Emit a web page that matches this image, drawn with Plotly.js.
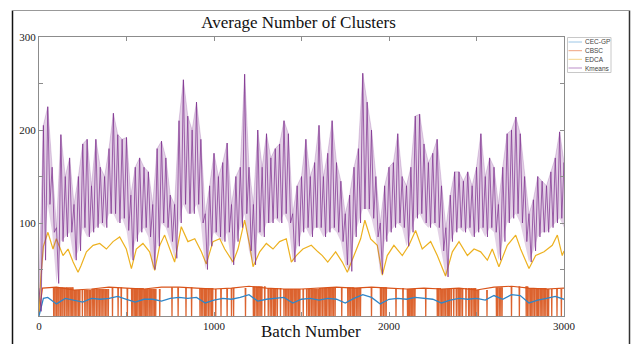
<!DOCTYPE html>
<html>
<head>
<meta charset="utf-8">
<script src="https://cdn.plot.ly/plotly-3.0.1.min.js"></script>
<style>html,body{margin:0;padding:0;background:#fff;}#chart{width:636px;height:344px;}</style>
</head>
<body>
<div id="chart"></div>
<script>
// ---------- data ----------
const seriesNames = ["CEC-GP", "CBSC", "EDCA", "Kmeans"];

// Kmeans: upper and lower edges of the fast oscillation, every 25 batches
const kmeansBatch = [0,25,50,75,100,125,150,175,200,225,250,275,300,325,350,375,400,425,450,475,
  500,525,550,575,600,625,650,675,700,725,750,775,800,825,850,875,900,925,950,975,
  1000,1025,1050,1075,1100,1125,1150,1175,1200,1225,1250,1275,1300,1325,1350,1375,1400,1425,1450,1475,
  1500,1525,1550,1575,1600,1625,1650,1675,1700,1725,1750,1775,1800,1825,1850,1875,1900,1925,1950,1975,
  2000,2025,2050,2075,2100,2125,2150,2175,2200,2225,2250,2275,2300,2325,2350,2375,2400,2425,2450,2475,
  2500,2525,2550,2575,2600,2625,2650,2675,2700,2725,2750,2775,2800,2825,2850,2875,2900,2925,2950,2975,3000];
const kmeansHigh = [30,205,225,160,95,195,150,170,120,150,185,190,140,190,160,150,180,218,195,190,
  192,130,160,170,160,155,120,180,188,170,130,120,210,254,215,200,230,190,110,140,
  175,150,165,186,120,150,160,260,160,120,200,160,196,170,180,185,210,196,110,140,
  150,190,150,165,205,150,175,210,165,145,110,130,160,180,261,230,200,150,100,140,
  160,165,196,150,140,160,215,217,185,165,175,190,140,95,130,155,155,145,155,140,
  160,196,150,170,160,120,160,196,200,214,196,150,110,125,150,145,140,155,170,198,165];
const kmeansLow = [5,60,120,90,35,80,85,90,60,70,95,85,90,95,100,95,110,110,100,105,
  92,60,80,90,95,85,50,75,100,95,80,62,100,120,110,110,120,100,50,75,
  90,85,80,90,55,80,95,110,70,55,90,85,100,100,105,100,110,100,58,75,
  90,95,85,95,95,85,90,95,90,80,55,48,85,100,115,115,105,85,45,80,
  90,95,100,95,75,90,105,110,100,95,100,95,70,42,80,90,95,90,95,85,
  90,95,85,95,90,60,80,100,105,110,100,80,58,70,85,90,90,95,100,105,95];

// EDCA
const edcaBatch = [0,10,25,51,80,99,137,166,195,223,240,271,309,347,385,423,461,499,528,556,
  594,632,661,690,718,747,775,813,851,890,928,956,994,1033,1061,1109,1137,1175,1204,1223,
  1261,1299,1337,1375,1413,1442,1470,1508,1556,1594,1619,1650,1695,1733,1762,1800,1838,1862,1895,1933,
  1962,1990,2028,2076,2114,2152,2190,2238,2276,2323,2362,2400,2448,2486,2524,2562,2590,2628,2676,2724,
  2752,2800,2838,2886,2933,2962,2990,3000];
const edcaValue = [5,40,75,90,72,83,65,72,58,47,54,69,76,78,72,80,85,72,51,72,
  78,69,49,76,87,72,58,96,80,83,69,56,80,83,72,58,72,103,76,53,
  69,78,72,80,83,58,65,72,76,69,65,58,69,58,47,65,83,103,83,76,
  44,65,76,65,76,92,72,80,65,43,69,80,65,72,69,60,72,53,76,87,
  72,51,65,69,76,87,65,70];

// CEC-GP
const cecBatch = [0,25,50,100,150,200,250,300,350,400,450,500,550,600,650,700,750,800,850,900,950,
  1000,1050,1100,1150,1200,1250,1300,1350,1400,1450,1500,1550,1600,1650,1700,1750,1800,1850,1900,1950,
  2000,2050,2100,2150,2200,2250,2300,2350,2400,2450,2500,2550,2600,2650,2700,2750,2800,2850,2900,2950,3000];
const cecValue = [0,19,20,13,19,17,15,19,18,19,21,18,15,18,18,16,19,20,19,20,14,
  17,19,18,20,23,16,18,19,20,14,18,19,17,19,18,14,19,23,20,13,
  18,19,18,20,19,18,14,17,19,18,19,17,22,18,23,22,14,17,19,21,18];

// CBSC: upper level, and the batches where it drops to zero
const cbscBatch = [0,20,100,200,300,400,500,600,700,800,900,1000,1100,1200,1300,1400,1500,1600,1700,1800,
  1900,2000,2100,2200,2300,2400,2500,2600,2700,2800,2900,3000];
const cbscTop = [2,30,31,28,29,31,30,29,31,31,30,29,30,32,30,29,29,30,31,30,
  31,30,29,30,29,30,28,31,32,30,29,30];
const cbscDrops = [84,91,99,108,114,123,131,137,146,155,161,170,178,187,193,201,210,217,226,233,
  248,262,269,279,288,295,304,313,319,329,337,345,354,361,371,379,388,396,
  420,452,470,505,
  530,536,544,552,558,565,573,580,586,594,601,609,616,622,630,639,645,652,660,667,
  690,760,795,840,872,
  920,927,936,945,952,959,968,977,985,992,
  1010,1040,1075,1100,1112,1180,
  1225,1232,1241,1250,1257,1264,1273,1290,1310,1321,1330,1339,1346,1353,1362,1380,1400,
  1410,1417,1426,1435,1442,1449,1458,1467,1474,1482,1490,1510,1530,1540,1547,1556,1565,1572,1579,
  1588,1597,1604,1611,1620,1629,1636,1643,1652,1661,1668,1675,1684,1692,
  1730,1765,1772,1781,1790,1797,1804,1813,1822,1829,1837,
  1900,1952,1959,1968,1977,1984,2040,2080,
  2106,2111,2118,2125,2130,2136,2143,2148,2210,
  2276,2283,2292,2301,2308,2315,2324,2333,2340,2347,2356,
  2370,2385,2395,2402,2411,2420,2440,2455,2462,2471,2480,2487,2494,2503,2511,
  2560,2614,2621,2630,2639,2646,2700,2745,
  2784,2791,2800,2809,2816,2823,2832,2841,2848,2855,2864,2873,2880,2887,2896,2905,2912,
  2930,2960,2985];

const xTickVals = [0,500,1000,1500,2000,2500,3000];
const xTickText = ["0","","1000","","2000","","3000"];
const yTickVals = [0,50,100,150,200,250,300];
const yTickText = ["","","100","","200","","300"];

// ---------- colours / geometry ----------
const COL = {cec:"#2f86c8", cbsc:"#d95319", edca:"#edb120", km:"#7e2f8e"};
const LEG = ["#9cc6e6", "#efa27f", "#f4d58a", "#bb8fc8"];
const W = 636, H = 344, ML = 39, MR = 72, MT = 37, MB = 28;
const PW = W - ML - MR, PH = H - MT - MB;
const px = v => (v - ML) / PW;          // pixel -> paper x
const py = v => (H - MB - v) / PH;      // pixel -> paper y

// Kmeans zig-zag between upper and lower edge
const kmX = [], kmY = [];
kmeansBatch.forEach((b, i) => {
  kmX.push(b); kmY.push(kmeansHigh[i]);
  kmX.push(b + 12.5); kmY.push(kmeansLow[i]);
});

// CBSC drop segments
function topAt(b) {
  let k = 0;
  for (let i = 0; i < cbscBatch.length; i++) if (cbscBatch[i] <= b) k = i;
  return cbscTop[k];
}
const dX = [], dY = [];
cbscDrops.forEach(d => { const t = topAt(d); dX.push(d - 1.5, d, d + 1.5, null); dY.push(t, 0, t, null); });

const traces = [
  {x: dX, y: dY, mode: "lines", line: {color: COL.cbsc, width: 1.3}, opacity: 0.9,
   showlegend: false, hoverinfo: "skip"},
  {x: cbscBatch, y: cbscTop, name: seriesNames[1], mode: "lines", line: {color: COL.cbsc, width: 1.1}},
  {x: cecBatch, y: cecValue, name: seriesNames[0], mode: "lines", line: {color: COL.cec, width: 1.3}},
  {x: edcaBatch, y: edcaValue, name: seriesNames[2], mode: "lines", line: {color: COL.edca, width: 1.2}},
  {x: kmeansBatch, y: kmeansLow, mode: "lines", line: {width: 0, color: COL.km}, showlegend: false, hoverinfo: "skip"},
  {x: kmeansBatch, y: kmeansHigh, mode: "lines", fill: "tonexty", fillcolor: "rgba(126,47,142,0.22)",
   line: {width: 0.5, color: "rgba(126,47,142,0.45)"}, showlegend: false, hoverinfo: "skip"},
  {x: kmX, y: kmY, name: seriesNames[3], mode: "lines", line: {color: COL.km, width: 0.8}, opacity: 0.9}
];

const serif = "Liberation Serif, Times New Roman, serif";
const axisCommon = {
  showgrid: false, zeroline: false, showline: true, linecolor: "#8c8c8c", linewidth: 1,
  mirror: "ticks", ticks: "inside", ticklen: 4, tickcolor: "#8c8c8c",
  tickfont: {family: serif, size: 11, color: "#222"}
};

// legend drawn as a small MATLAB-style box
const legShapes = [
  {type: "rect", xref: "paper", yref: "paper", x0: px(567.5), x1: px(611), y0: py(37.5), y1: py(72.5),
   line: {color: "#c8c8c8", width: 1}, fillcolor: "#fff", layer: "above"}
];
const legY = [42, 50.7, 59.3, 68];
const legAnn = [];
seriesNames.forEach((n, i) => {
  legShapes.push({type: "line", xref: "paper", yref: "paper", x0: px(568.5), x1: px(582), y0: py(legY[i]), y1: py(legY[i]),
                  line: {color: LEG[i], width: 1}, layer: "above"});
  legAnn.push({xref: "paper", yref: "paper", x: px(583), y: py(legY[i]), xanchor: "left", yanchor: "middle",
               text: n, showarrow: false, font: {family: "Liberation Sans, Arial, sans-serif", size: 6.5, color: "#444"}});
});

const layout = {
  width: W, height: H,
  margin: {l: ML, r: MR, t: MT, b: MB, pad: 0},
  paper_bgcolor: "#fff", plot_bgcolor: "#fff",
  showlegend: false,
  title: {text: "Average Number of Clusters", font: {family: serif, size: 17, color: "#111"},
          xref: "container", x: 298.5 / W, xanchor: "center", yref: "container", y: 1 - 22 / H, yanchor: "middle"},
  xaxis: Object.assign({}, axisCommon, {range: [0, 3000], tickmode: "array", tickvals: xTickVals, ticktext: xTickText}),
  yaxis: Object.assign({}, axisCommon, {range: [0, 300], tickmode: "array", tickvals: yTickVals, ticktext: yTickText}),
  annotations: [
    {xref: "paper", yref: "paper", x: px(311), y: py(331), xanchor: "center", yanchor: "middle", showarrow: false,
     text: "Batch Number", font: {family: serif, size: 17, color: "#111"}}
  ].concat(legAnn),
  shapes: [
    {type: "line", xref: "paper", yref: "paper", x0: px(12.5), x1: px(12.5), y0: py(10.5), y1: py(344), line: {color: "#111", width: 1.5}},
    {type: "line", xref: "paper", yref: "paper", x0: px(629.5), x1: px(629.5), y0: py(10.5), y1: py(344), line: {color: "#333", width: 1.5}},
    {type: "line", xref: "paper", yref: "paper", x0: px(12.5), x1: px(629.5), y0: py(10.5), y1: py(10.5), line: {color: "#999", width: 1}}
  ].concat(legShapes)
};

Plotly.newPlot("chart", traces, layout, {staticPlot: true, displayModeBar: false});
</script>
</body>
</html>
